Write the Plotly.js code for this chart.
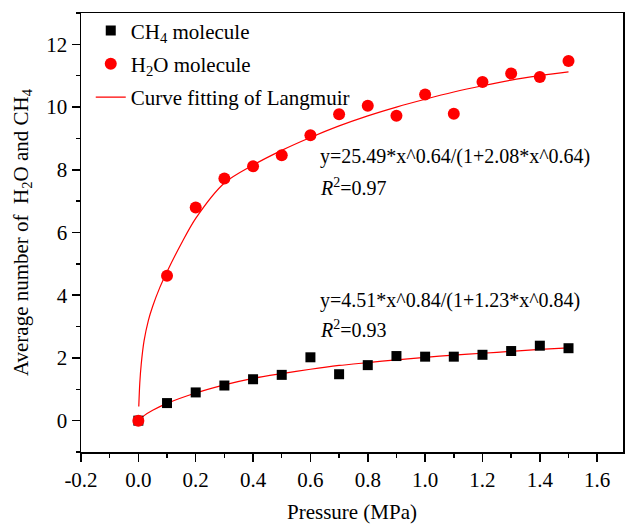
<!DOCTYPE html>
<html>
<head>
<meta charset="utf-8">
<script src="https://cdn.plot.ly/plotly-3.0.1.min.js"></script>
<style>html,body{margin:0;padding:0;background:#fff;}#chart{width:625px;height:524px;}</style>
</head>
<body>
<div id="chart"></div>
<script>
// Pressure (MPa) of the simulated points
const pressure = [0.0, 0.1, 0.2, 0.3, 0.4, 0.5, 0.6, 0.7, 0.8, 0.9, 1.0, 1.1, 1.2, 1.3, 1.4, 1.5];
// Average number of CH4 molecules
const ch4Values = [0.0, 0.56, 0.90, 1.12, 1.32, 1.46, 2.02, 1.48, 1.77, 2.06, 2.04, 2.04, 2.10, 2.22, 2.39, 2.31];
// Average number of H2O molecules
const h2oValues = [0.0, 4.62, 6.80, 7.72, 8.11, 8.46, 9.10, 9.77, 10.04, 9.72, 10.40, 9.79, 10.80, 11.07, 10.96, 11.47];

// Langmuir fitting curves
const h2oFitX = [0.0015, 0.005, 0.01, 0.02, 0.035, 0.05, 0.075, 0.1, 0.15, 0.2, 0.3, 0.4, 0.5, 0.6, 0.7, 0.8, 0.9, 1.0, 1.1, 1.2, 1.3, 1.4, 1.5];
const h2oFitY = [0.45, 1.2, 1.8, 2.55, 3.2, 3.65, 4.25, 4.75, 5.65, 6.45, 7.58, 8.15, 8.62, 9.03, 9.40, 9.72, 10.0, 10.25, 10.48, 10.68, 10.86, 11.0, 11.12];
const ch4FitX = [0.0, 0.02, 0.05, 0.1, 0.2, 0.3, 0.4, 0.5, 0.6, 0.7, 0.8, 0.9, 1.0, 1.1, 1.2, 1.3, 1.4, 1.5];
const ch4FitY = [0.0, 0.16, 0.33, 0.55, 0.88, 1.14, 1.35, 1.50, 1.64, 1.76, 1.85, 1.94, 2.02, 2.09, 2.15, 2.21, 2.27, 2.32];

const xTickVals = [-0.2, 0.0, 0.2, 0.4, 0.6, 0.8, 1.0, 1.2, 1.4, 1.6];
const xTickText = ["-0.2", "0.0", "0.2", "0.4", "0.6", "0.8", "1.0", "1.2", "1.4", "1.6"];
const yTickVals = [0, 2, 4, 6, 8, 10, 12];
const yTickText = ["0", "2", "4", "6", "8", "10", "12"];

const FONT = "Liberation Serif, Times New Roman, serif";

const traces = [
  {
    x: ch4FitX, y: ch4FitY, type: "scatter", mode: "lines",
    line: {color: "#ff0000", width: 1.2, shape: "spline", smoothing: 0.6},
    showlegend: false, hoverinfo: "skip"
  },
  {
    x: h2oFitX, y: h2oFitY, type: "scatter", mode: "lines",
    line: {color: "#ff0000", width: 1.2, shape: "spline", smoothing: 0.8},
    showlegend: false, hoverinfo: "skip"
  },
  {
    x: pressure, y: ch4Values, type: "scatter", mode: "markers",
    name: "CH<sub>4</sub> molecule", legendgroup: "a", legendrank: 1,
    marker: {symbol: "square", size: 10, color: "#000000"}
  },
  {
    x: pressure, y: h2oValues, type: "scatter", mode: "markers",
    name: "H<sub>2</sub>O molecule", legendgroup: "b", legendrank: 2,
    marker: {symbol: "circle", size: 12, color: "#ff0000"}
  },
  {
    x: [null], y: [null], type: "scatter", mode: "lines",
    name: "Curve fitting of Langmuir", legendgroup: "c", legendrank: 3,
    line: {color: "#ff0000", width: 1.2}
  }
];

const layout = {
  width: 625, height: 524,
  margin: {l: 81, r: 2, t: 13, b: 72},
  paper_bgcolor: "#ffffff", plot_bgcolor: "#ffffff",
  font: {family: FONT, size: 21, color: "#000000"},
  showlegend: true,
  legend: {
    x: 0.018, y: 1.006, xanchor: "left", yanchor: "top",
    bgcolor: "rgba(0,0,0,0)", borderwidth: 0,
    font: {family: FONT, size: 21, color: "#000000"},
    traceorder: "grouped", tracegroupgap: 3, itemwidth: 30
  },
  xaxis: {
    range: [-0.2, 1.69], tickmode: "array", tickvals: xTickVals, ticktext: xTickText,
    ticks: "outside", ticklen: 8, tickwidth: 1.5, tickcolor: "#000",
    minor: {dtick: 0.1, tick0: 0, ticks: "outside", ticklen: 4, tickwidth: 1.5, tickcolor: "#000", showgrid: false},
    showline: true, linewidth: 1.5, linecolor: "#000", mirror: true,
    showgrid: false, zeroline: false,
    tickfont: {family: FONT, size: 21},
    title: {text: "Pressure (MPa)", font: {family: FONT, size: 21}, standoff: 16}
  },
  yaxis: {
    range: [-1, 13], tickmode: "array", tickvals: yTickVals, ticktext: yTickText,
    ticks: "outside", ticklen: 8, tickwidth: 1.5, tickcolor: "#000",
    minor: {dtick: 1, tick0: 0, ticks: "outside", ticklen: 4, tickwidth: 1.5, tickcolor: "#000", showgrid: false},
    showline: true, linewidth: 1.5, linecolor: "#000", mirror: true,
    showgrid: false, zeroline: false,
    tickfont: {family: FONT, size: 21},
    title: {text: "Average number of \u00a0H<sub>2</sub>O and CH<sub>4</sub>", font: {family: FONT, size: 21}, standoff: 12}
  },
  annotations: [
    {xref: "paper", yref: "paper", x: (318 - 81) / 542, y: (451.7 - 156) / 438.7, xanchor: "left", yanchor: "middle",
     text: "y=25.49*x^0.64/(1+2.08*x^0.64)", showarrow: false, font: {family: FONT, size: 20}},
    {xref: "paper", yref: "paper", x: (318 - 81) / 542, y: (451.7 - 187) / 438.7, xanchor: "left", yanchor: "middle",
     text: "<i>R</i><sup>2</sup>=0.97", showarrow: false, font: {family: FONT, size: 20}},
    {xref: "paper", yref: "paper", x: (318 - 81) / 542, y: (451.7 - 300) / 438.7, xanchor: "left", yanchor: "middle",
     text: "y=4.51*x^0.84/(1+1.23*x^0.84)", showarrow: false, font: {family: FONT, size: 20}},
    {xref: "paper", yref: "paper", x: (318 - 81) / 542, y: (451.7 - 329) / 438.7, xanchor: "left", yanchor: "middle",
     text: "<i>R</i><sup>2</sup>=0.93", showarrow: false, font: {family: FONT, size: 20}}
  ]
};

Plotly.newPlot("chart", traces, layout, {displayModeBar: false, staticPlot: true});
</script>
</body>
</html>
